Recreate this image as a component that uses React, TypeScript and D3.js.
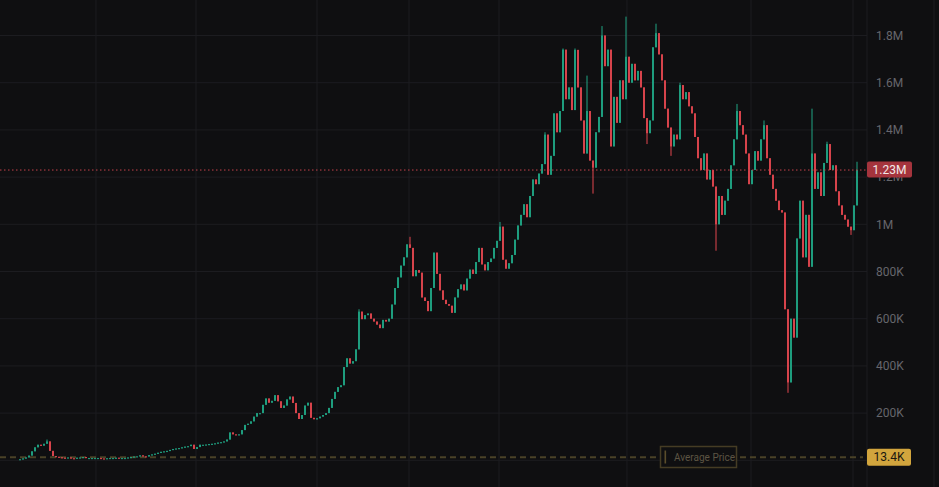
import React from 'react';
import * as d3 from 'd3';

// Close prices in thousands (K)
const closes: number[] = [
  5, 8, 12, 20, 38, 55, 66, 62, 70, 80,
  40, 18, 15, 13, 11, 10, 12, 9, 8, 11,
  12, 14, 10, 10, 10, 10, 10, 8, 7, 9,
  10, 10, 11, 10, 10, 10, 12, 14, 16, 17,
  21, 17, 16, 22, 25, 28, 32, 36, 38, 40,
  44, 48, 50, 52, 55, 58, 60, 66, 48, 56,
  66, 66, 67, 69, 70, 72, 75, 77, 80, 88,
  118, 110, 108, 110, 128, 150, 155, 165, 185, 200,
  200, 235, 262, 244, 252, 276, 250, 222, 232, 258,
  270, 243, 200, 175, 192, 232, 244, 180, 174, 178,
  185, 192, 200, 222, 260, 290, 310, 318, 395, 432,
  410, 420, 470, 630, 598, 615, 622, 600, 588, 575,
  560, 595, 588, 600, 660, 730, 775, 825, 860, 915,
  900, 780, 806, 795, 690, 675, 632, 730, 880, 790,
  720, 680, 662, 655, 625, 690, 725, 745, 720, 770,
  808, 790, 840, 900, 830, 805, 840, 855, 900, 930,
  990, 850, 812, 835, 870, 935, 995, 1040, 1085, 1030,
  1120, 1190, 1170, 1215, 1255, 1380, 1210, 1290, 1470, 1390,
  1480, 1740, 1530, 1580, 1484, 1739, 1580, 1440, 1300, 1480,
  1270, 1240, 1390, 1455, 1800, 1670, 1740, 1330, 1540, 1430,
  1610, 1530, 1710, 1600, 1680, 1610, 1650, 1580, 1450, 1386,
  1440, 1750, 1810, 1720, 1610, 1490, 1410, 1330, 1380, 1360,
  1590, 1530, 1560, 1500, 1470, 1370, 1280, 1230, 1300, 1190,
  1230, 1160, 1000, 1120, 1040, 1100, 1150, 1250, 1360, 1480,
  1420, 1380, 1300, 1170, 1230, 1310, 1270, 1360, 1420, 1280,
  1210, 1150, 1100, 1060, 1050, 640, 330, 600, 520, 940,
  1100, 860, 1040, 820, 1300, 1150, 1220, 1120, 1260, 1340,
  1230, 1250, 1140, 1080, 1040, 1020, 990, 975, 1080, 1230,
];

// Notable wick extremes: [candle index, price K]
const highWicks: [number, number][] = [
  [9, 88], [113, 640], [130, 947], [160, 1010], [175, 1390], [181, 1745],
  [185, 1745], [189, 1630], [194, 1840], [202, 1880], [212, 1850],
  [220, 1600], [239, 1510], [248, 1440], [264, 1490], [269, 1350], [279, 1265],
];
const lowWicks: [number, number][] = [
  [191, 1130], [209, 1340], [217, 1290], [232, 888], [256, 286], [277, 955],
];

const yTicks = [0, 200, 400, 600, 800, 1000, 1200, 1400, 1600, 1800];
// tick labels shown on the axis (0 sits under the average-price tag)
const yLabelTicks = [200, 400, 600, 800, 1000, 1200, 1400, 1600, 1800];
// vertical grid positions expressed in candle-index units
const gridIndex = [25.33, 58.67, 99, 129.67, 159.67, 202.33, 243.67, 277.67];

const lastPrice = 1230;
const lastLabel = '1.23M';
const avgPrice = 13.4;
const avgLabel = '13.4K';
const avgText = 'Average Price';

const W = 939;
const H = 487;
const BG = '#0f0f11';
const GRID = '#1c1c20';
const UP = '#20a584';
const DOWN = '#e2464f';

function fmt(v: number): string {
  if (v === 0) return '0';
  if (v >= 1000) return `${v / 1000}M`;
  return `${v}K`;
}

export default function App() {
  const x = d3.scaleLinear().domain([0, closes.length - 1]).range([20, 857]);
  const y = d3.scaleLinear().domain([0, 1800]).range([460.3, 35.5]);
  const hiMap = new Map(highWicks);
  const loMap = new Map(lowWicks);
  const bw = 1.8;
  const axisX = 867;

  const candles = closes.map((c, i) => {
    const o = i === 0 ? c : closes[i - 1];
    const h = Math.max(o, c, hiMap.get(i) ?? 0);
    const l = Math.min(o, c, loMap.get(i) ?? Infinity);
    const up = c >= o;
    const col = up ? UP : DOWN;
    const cx = x(i);
    const top = y(Math.max(o, c));
    const bh = Math.max(1.2, Math.abs(y(o) - y(c)));
    return (
      <g key={i}>
        <line x1={cx} x2={cx} y1={y(h)} y2={y(l)} stroke={col} strokeWidth={1} />
        <rect x={cx - bw / 2} y={top} width={bw} height={bh} fill={col} />
      </g>
    );
  });

  const yLast = y(lastPrice);
  const yAvg = y(avgPrice);
  const font = 'Roboto, Inter, "DejaVu Sans", sans-serif';

  return (
    <svg width={W} height={H} style={{ position: 'absolute', left: 0, top: 0, display: 'block' }}>
      <rect x={0} y={0} width={W} height={H} fill={BG} />
      {yTicks.map((t) => (
        <line key={'h' + t} x1={0} x2={axisX} y1={y(t)} y2={y(t)} stroke={GRID} strokeWidth={1} />
      ))}
      {gridIndex.map((g) => (
        <line key={'v' + g} x1={x(g)} x2={x(g)} y1={0} y2={H} stroke={GRID} strokeWidth={1} />
      ))}
      <line x1={axisX} x2={axisX} y1={0} y2={H} stroke={GRID} strokeWidth={1} />
      <line x1={934} x2={934} y1={0} y2={H} stroke={GRID} strokeWidth={1} />

      {/* average price dashed line */}
      <line x1={0} x2={863} y1={yAvg} y2={yAvg} stroke="#4a4227" strokeWidth={2} strokeDasharray="6 4" />

      {candles}

      {/* last price dotted line */}
      <line x1={0} x2={axisX} y1={yLast} y2={yLast} stroke="#c4424c" strokeWidth={1} strokeDasharray="1.5 2.5" />

      {yLabelTicks.map((t) => (
        <text key={'t' + t} x={876} y={y(t)} dy="0.35em" fontSize={12} fill="#66666c" fontFamily={font}>
          {fmt(t)}
        </text>
      ))}

      {/* Average price tag */}
      <rect x={660.5} y={446.5} width={76} height={21} fill={BG} stroke="#453c24" strokeWidth={1.5} />
      <rect x={664.5} y={450.5} width={1.6} height={13} fill="#5a4d2b" />
      <text x={674} y={yAvg} dy="0.35em" fontSize={10} fill="#5c5443" fontFamily={font}>
        {avgText}
      </text>

      {/* last price label */}
      <rect x={axisX} y={yLast - 8.5} width={45} height={16} rx={2} fill="#a5343d" />
      <text x={axisX + 22.5} y={yLast} dy="0.35em" textAnchor="middle" fontSize={12} fill="#f2e8e8" fontFamily={font}>
        {lastLabel}
      </text>

      {/* average label */}
      <rect x={axisX} y={yAvg - 8.5} width={44} height={17} rx={2} fill="#d2a53d" />
      <text x={axisX + 22} y={yAvg} dy="0.35em" textAnchor="middle" fontSize={12} fill="#1a1710" fontFamily={font}>
        {avgLabel}
      </text>
    </svg>
  );
}
